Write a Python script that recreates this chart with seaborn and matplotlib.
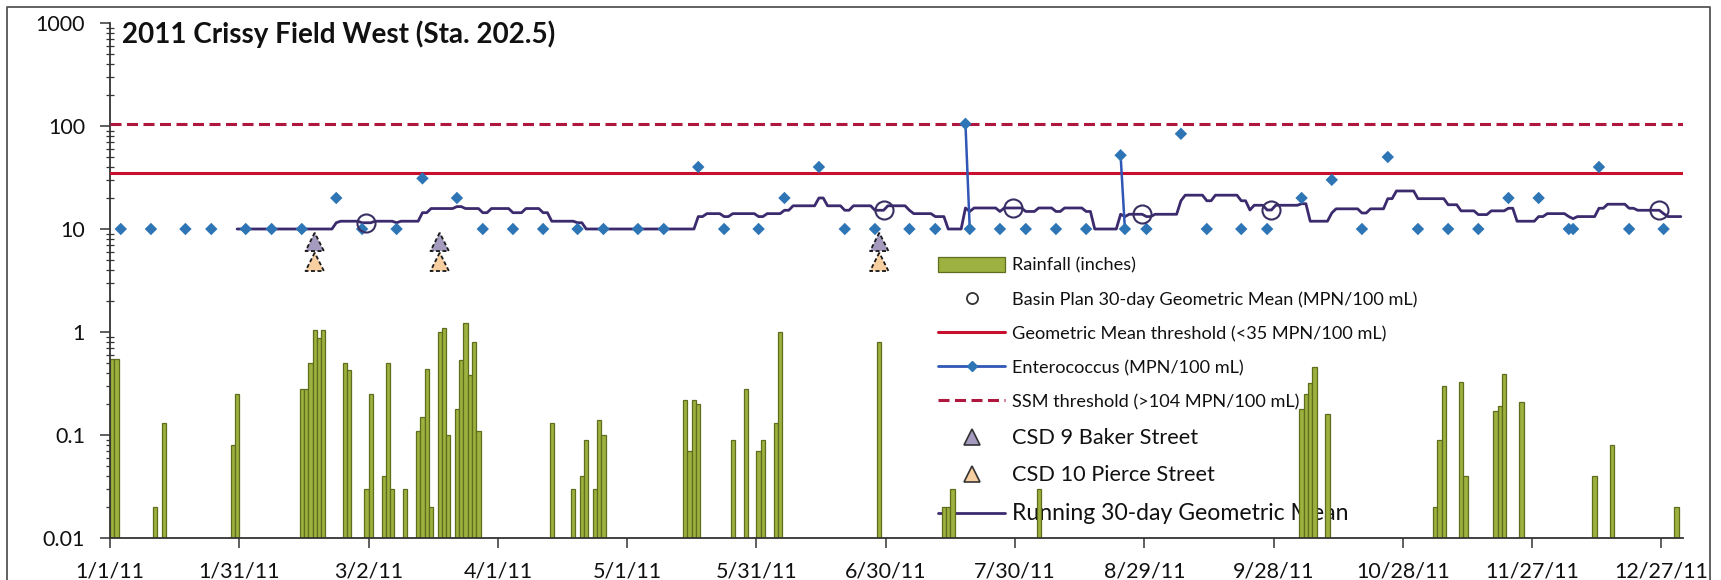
import numpy as np
import pandas as pd
import matplotlib
matplotlib.use("Agg")
import matplotlib.pyplot as plt
from matplotlib.lines import Line2D
from matplotlib.patches import Patch
from matplotlib.ticker import LogLocator, NullFormatter, FixedLocator
import seaborn as sns

# ---------------- data (day of year 2011, 0 = Jan 1) ----------------
rain_day = [0, 1, 10, 12, 28, 29, 44, 45, 46, 47, 48, 49, 54, 55, 59, 60, 63, 64, 65, 68,
            71, 72, 73, 74, 76, 77, 78, 80, 81, 82, 83, 84, 85, 102, 107, 109, 110, 112,
            113, 114, 133, 134, 135, 136, 144, 147, 150, 151, 154, 155, 178, 193, 194, 195,
            215, 276, 277, 278, 279, 282, 307, 308, 309, 313, 314, 321, 322, 323, 327, 344,
            348, 363]
rain_inches = [0.55, 0.55, 0.02, 0.13, 0.08, 0.25, 0.28, 0.28, 0.50, 1.05, 0.88, 1.05, 0.50,
               0.43, 0.03, 0.25, 0.04, 0.50, 0.03, 0.03, 0.11, 0.15, 0.44, 0.02, 1.00, 1.10,
               0.10, 0.18, 0.53, 1.23, 0.38, 0.80, 0.11, 0.13, 0.03, 0.04, 0.09, 0.03, 0.14,
               0.10, 0.22, 0.07, 0.22, 0.20, 0.09, 0.28, 0.07, 0.09, 0.13, 1.00, 0.80, 0.02,
               0.02, 0.03, 0.03, 0.18, 0.25, 0.32, 0.46, 0.16, 0.02, 0.09, 0.30, 0.33, 0.04,
               0.17, 0.19, 0.39, 0.21, 0.04, 0.08, 0.02]

ent_day = [2, 9, 17, 23, 31, 37, 44, 52, 58, 66, 72, 80, 86, 93, 100, 108, 114, 122, 128,
           136, 142, 150, 156, 164, 170, 177, 185, 191, 198, 199, 206, 212, 219, 226, 234,
           235, 240, 248, 254, 262, 268, 276, 283, 290, 296, 303, 310, 317, 324, 331, 338,
           339, 345, 352, 360]
ent_mpn = [10, 10, 10, 10, 10, 10, 10, 20, 10, 10, 31, 20, 10, 10, 10, 10, 10, 10, 10,
           40, 10, 10, 20, 40, 10, 10, 10, 10, 105, 10, 10, 10, 10, 10, 52,
           10, 10, 84, 10, 10, 10, 20, 30, 10, 50, 10, 10, 10, 20, 20, 10,
           10, 40, 10, 10]

run_day = [29, 51, 52, 53, 57, 58, 60, 61, 65, 66, 67, 71, 72, 73, 74, 79, 80, 81, 82, 85,
           86, 87, 88, 92, 93, 95, 96, 99, 100, 101, 102, 107, 108, 109, 110, 135, 136, 137,
           138, 141, 142, 143, 144, 149, 150, 151, 152, 155, 156, 157, 158, 163, 164, 165,
           166, 169, 170, 171, 172, 176, 177, 179, 180, 184, 185, 186, 190, 191, 193, 194,
           197, 198, 199, 200, 205, 206, 207, 211, 212, 214, 215, 218, 219, 220, 221, 225,
           226, 227, 228, 233, 234, 235, 236, 239, 240, 241, 242, 247, 248, 249, 253, 254,
           255, 256, 261, 262, 263, 264, 265, 267, 268, 269, 270, 275, 276, 277, 278, 282,
           283, 284, 289, 290, 291, 292, 295, 296, 297, 298, 302, 303, 309, 310, 312, 313,
           316, 317, 319, 320, 323, 324, 325, 326, 330, 331, 332, 333, 337, 338, 339, 340,
           344, 345, 346, 347, 351, 352, 353, 354, 359, 360, 361, 364]
run_gm = [10, 10, 11.5, 11.9, 11.9, 11.5, 11.5, 11.9, 11.9, 11.5, 11.9, 11.9, 14.4, 14.4,
          15.8, 15.8, 16.5, 16.5, 15.8, 15.8, 14.4, 14.4, 15.8, 15.8, 14.4, 14.4, 15.8, 15.8,
          14.4, 14.4, 11.9, 11.9, 11.5, 11.5, 10, 10, 13.2, 13.2, 14.1, 14.1, 13.2, 13.2,
          14.1, 14.1, 13.2, 13.2, 14.1, 14.1, 15.2, 15.2, 16.8, 16.8, 20.0, 20.0, 16.8, 16.8,
          15.2, 15.2, 16.8, 16.8, 15.2, 15.2, 16.8, 16.8, 15.2, 14.1, 14.1, 13.2, 13.2, 10,
          10, 16.0, 14.8, 16.0, 16.0, 14.8, 16.0, 16.0, 14.8, 14.8, 16.0, 16.0, 14.8, 14.8,
          16.0, 16.0, 14.8, 14.8, 10, 10, 13.9, 13.2, 13.9, 13.9, 13.2, 13.2, 13.9, 13.9,
          18.8, 21.3, 21.3, 18.8, 18.8, 21.3, 21.3, 18.8, 18.8, 15.3, 17.0, 17.0, 15.3, 15.3,
          17.0, 17.0, 17.6, 17.6, 11.9, 11.9, 14.3, 15.7, 15.7, 14.3, 14.3, 15.7, 15.7, 19.7,
          19.7, 23.4, 23.4, 19.7, 19.7, 17.2, 17.2, 15.0, 15.0, 13.8, 13.8, 15.0, 15.0, 15.9,
          15.9, 11.9, 11.9, 13.2, 13.2, 14.1, 14.1, 13.2, 12.6, 13.2, 13.2, 15.9, 15.9, 17.4,
          17.4, 15.9, 15.9, 15.2, 15.2, 14.1, 13.2, 13.2]

basin_day = [59, 179, 209, 239, 269, 359]
basin_gm = [11.5, 15.2, 16.0, 13.9, 15.3, 15.2]

csd_day = [47, 76, 178]
csd9_level = [7.5, 7.5, 7.5]
csd10_level = [4.8, 4.8, 4.8]

gm_threshold = 35
ssm_threshold = 104

xtick_day = [0, 30, 60, 90, 120, 150, 180, 210, 240, 270, 300, 330, 360]
xtick_labels = ["1/1/11", "1/31/11", "3/2/11", "4/1/11", "5/1/11", "5/31/11", "6/30/11",
                "7/30/11", "8/29/11", "9/28/11", "10/28/11", "11/27/11", "12/27/11"]
ytick_vals = [0.01, 0.1, 1, 10, 100, 1000]
ytick_labels = ["0.01", "0.1", "1", "10", "100", "1000"]

title = "2011 Crissy Field West (Sta. 202.5)"
legend_labels = ["Rainfall (inches)",
                 "Basin Plan 30-day Geometric Mean (MPN/100 mL)",
                 "Geometric Mean threshold (<35 MPN/100 mL)",
                 "Enterococcus (MPN/100 mL)",
                 "SSM threshold (>104 MPN/100 mL)",
                 "CSD 9 Baker Street",
                 "CSD 10 Pierce Street",
                 "Running 30-day Geometric Mean"]

# ---------------- style ----------------
RAIN_FC = "#9CB13F"
RAIN_EC = "#5E6E1C"
ENT_C = "#2E75B6"
ENT_LINE = "#3057B5"
RUN_C = "#3C2A6E"
GM_C = "#C8102E"
SSM_C = "#B0173F"
CIRC_C = "#3A2F63"
BAKER_C = "#A59BBF"
PIERCE_C = "#F8CFA0"

sns.set_theme(style="ticks")
plt.rcParams["font.family"] = ["Lato", "DejaVu Sans"]
plt.rcParams["text.color"] = "#111111"

fig = plt.figure(figsize=(17.21, 5.80), dpi=100)
ax = fig.add_axes([110 / 1721, 42 / 580, 1573 / 1721, 515 / 580])
ax.set_yscale("log")

rain = pd.DataFrame({"x": np.array(rain_day) + 0.5, "inches": rain_inches})
sns.barplot(data=rain, x="x", y="inches", native_scale=True, width=1.0,
            color=RAIN_FC, saturation=1, edgecolor=RAIN_EC, linewidth=0.9,
            errorbar=None, ax=ax, zorder=2)

ax.axhline(ssm_threshold, color=SSM_C, lw=2.2, dashes=(3.6, 1.8), zorder=3)
ax.axhline(gm_threshold, color=GM_C, lw=2.2, zorder=3)

run = pd.DataFrame({"x": np.array(run_day) + 0.5, "gm": run_gm})
sns.lineplot(data=run, x="x", y="gm", color=RUN_C, lw=2.0, estimator=None,
             sort=False, ax=ax, zorder=4, legend=False)

ent = pd.DataFrame({"x": np.array(ent_day) + 0.5, "mpn": ent_mpn})
ent["grp"] = (np.diff(np.array(ent_day), prepend=-10) > 1).cumsum()
sns.lineplot(data=ent, x="x", y="mpn", units="grp", estimator=None, color=ENT_LINE,
             lw=1.8, ax=ax, zorder=5, legend=False)

csd = pd.DataFrame({"x": np.array(csd_day) + 0.5, "b": csd9_level, "p": csd10_level})
sns.scatterplot(data=csd, x="x", y="p", marker="^", s=175, color=PIERCE_C,
                edgecolor="#1a1a1a", linewidth=1.3, linestyle=(0, (2.2, 1.4)),
                ax=ax, zorder=6, legend=False)
sns.scatterplot(data=csd, x="x", y="b", marker="^", s=175, color=BAKER_C,
                edgecolor="#1a1a1a", linewidth=1.3, linestyle=(0, (2.2, 1.4)),
                ax=ax, zorder=6, legend=False)

sns.scatterplot(data=ent, x="x", y="mpn", marker="D", s=40, color=ENT_C,
                edgecolor="none", ax=ax, zorder=7, legend=False)

basin = pd.DataFrame({"x": np.array(basin_day) + 0.5, "gm": basin_gm})
sns.lineplot(data=basin, x="x", y="gm", linestyle="", marker="o", markersize=13,
             markerfacecolor="none", markeredgecolor=CIRC_C, markeredgewidth=1.5,
             estimator=None, ax=ax, zorder=8, legend=False)

# ---------------- axes ----------------
ax.set_xlim(0, 365)
ax.set_ylim(0.01, 1000)
ax.set_xlabel("")
ax.set_ylabel("")
ax.xaxis.set_major_locator(FixedLocator(xtick_day))
ax.set_xticklabels(xtick_labels)
ax.yaxis.set_major_locator(FixedLocator(ytick_vals))
ax.set_yticklabels(ytick_labels)
ax.yaxis.set_minor_locator(LogLocator(base=10, subs=np.arange(2, 10), numticks=30))
ax.yaxis.set_minor_formatter(NullFormatter())
ax.tick_params(axis="both", which="major", direction="out", length=7, width=1.1,
               color="#333333", labelsize=15.5, labelcolor="#111111")
ax.tick_params(axis="x", pad=10)
ax.tick_params(axis="y", pad=11)
ax.tick_params(axis="y", which="minor", direction="inout", length=6, width=0.9,
               color="#333333")
ax.tick_params(axis="x", which="minor", length=0)
for s in ["top", "right"]:
    ax.spines[s].set_visible(False)
for s in ["left", "bottom"]:
    ax.spines[s].set_color("#333333")
    ax.spines[s].set_linewidth(1.3)

ax.text(0.0078, 0.979, title, transform=ax.transAxes, fontsize=20,
        fontweight="bold", va="center", ha="left", color="#111111")

# ---------------- legend ----------------
handles = [
    Patch(facecolor=RAIN_FC, edgecolor=RAIN_EC, linewidth=0.9),
    Line2D([], [], ls="none", marker="o", ms=8, mfc="none", mec="#333333", mew=1.3),
    Line2D([], [], color=GM_C, lw=2.2),
    Line2D([], [], color=ENT_LINE, lw=2.0, marker="D", ms=5, mfc=ENT_C, mec=ENT_C),
    Line2D([], [], color=SSM_C, lw=2.2, dashes=(3.6, 1.8)),
    Line2D([], [], ls="none", marker="^", ms=11, mfc=BAKER_C, mec="#333333", mew=1.2),
    Line2D([], [], ls="none", marker="^", ms=11, mfc=PIERCE_C, mec="#333333", mew=1.2),
    Line2D([], [], color=RUN_C, lw=2.0),
]
leg = ax.legend(handles, legend_labels, loc="upper left",
                bbox_to_anchor=((938 - 110) / 1573, 0.5454),
                frameon=False, fontsize=13.1, handlelength=3.7, handleheight=0.87,
                handletextpad=0.36, labelspacing=0.96, borderpad=0, borderaxespad=0)
texts = leg.get_texts()
texts[5].set_fontsize(15.7)
texts[6].set_fontsize(15.7)
texts[7].set_fontsize(16.6)
leg.set_zorder(1)

# outer chart frame
fig.add_artist(Line2D([7 / 1721, 7 / 1721, 1710 / 1721, 1710 / 1721],
                      [0, 1 - 7 / 580, 1 - 7 / 580, 0],
                      transform=fig.transFigure, color="#555555", lw=1.3))

fig.savefig("out.png", dpi=100)
